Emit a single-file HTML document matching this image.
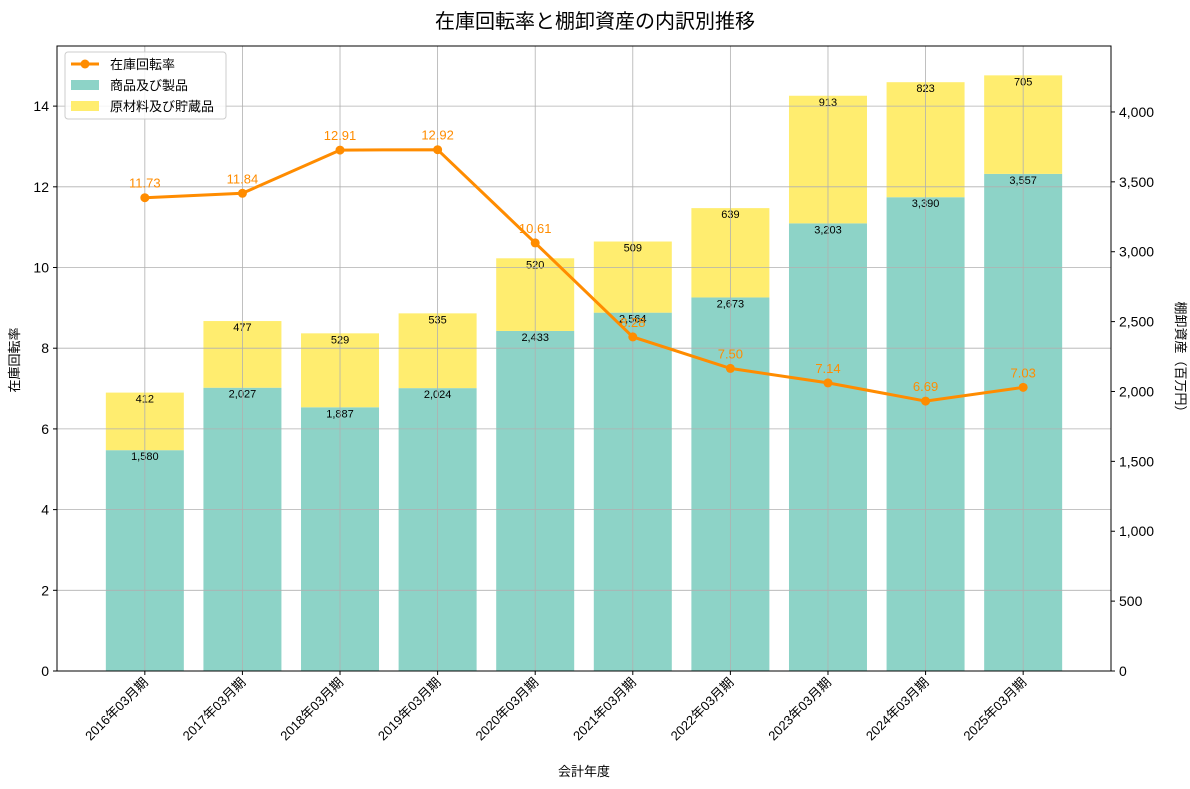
<!DOCTYPE html>
<html><head><meta charset="utf-8">
<style>
body{margin:0;background:#fff;}
svg{display:block;font-family:"Liberation Sans","Noto Sans CJK JP",sans-serif;}
</style></head>
<body>
<svg id="chart" width="1190" height="789">
<text x="595" y="28" text-anchor="middle" font-size="20" fill="#000">在庫回転率と棚卸資産の内訳別推移</text>
<g id="grid"></g><g id="bars"></g><g id="line"></g><g id="axes"></g>
<text x="584" y="776" text-anchor="middle" font-size="13">会計年度</text>
<text transform="translate(19,360) rotate(-90)" text-anchor="middle" font-size="13">在庫回転率</text>
<text transform="translate(1176,360) rotate(90)" text-anchor="middle" font-size="13">棚卸資産（百万円）</text>
<g>
<rect x="65" y="52" width="161" height="67" fill="#fff" fill-opacity="0.85" stroke="#ccc" rx="3"/>
<line x1="71" y1="64" x2="99" y2="64" stroke="#ff8c00" stroke-width="3"/><circle cx="85" cy="64" r="4.5" fill="#ff8c00"/>
<text x="110" y="69" font-size="13">在庫回転率</text>
<rect x="71" y="80" width="28" height="10" fill="#8dd3c7"/>
<text x="110" y="90" font-size="13">商品及び製品</text>
<rect x="71" y="101" width="28" height="10" fill="#ffed6f"/>
<text x="110" y="111" font-size="13">原材料及び貯蔵品</text>
</g>
</svg>
<script>
const categories=["2016年03月期","2017年03月期","2018年03月期","2019年03月期","2020年03月期","2021年03月期","2022年03月期","2023年03月期","2024年03月期","2025年03月期"];
const products=[1580,2027,1887,2024,2433,2564,2673,3203,3390,3557];
const materials=[412,477,529,535,520,509,639,913,823,705];
const turnover=[11.73,11.84,12.91,12.92,10.61,8.28,7.50,7.14,6.69,7.03];
const leftTicks=[0,2,4,6,8,10,12,14];
const rightTicks=[0,500,1000,1500,2000,2500,3000,3500,4000];
const L=57,R=1111,T=46,B=671;
const NS="http://www.w3.org/2000/svg";
const xs=i=>L+(i+0.9)*(R-L)/10.8;
const yl=v=>B-v*(B-T)/15.49;
const yr=v=>B-v*(B-T)/4472;
function mk(p,tag,a,txt){const e=document.createElementNS(NS,tag);for(const k in a)e.setAttribute(k,a[k]);if(txt!=null)e.textContent=txt;document.getElementById(p).appendChild(e);return e;}
const fmt=v=>v.toLocaleString('en-US');
categories.forEach((c,i)=>{
 const x=xs(i),w=78;
 const b1=mk('bars','rect',{x:x-w/2,y:yr(products[i]),width:w,height:B-yr(products[i]),fill:'#8dd3c7'});
 
 
 const b2=mk('bars','rect',{x:x-w/2,y:yr(products[i]+materials[i]),width:w,height:yr(products[i])-yr(products[i]+materials[i]),fill:'#ffed6f'});
 
 
 const t1=mk('bars','text',{x:x,y:yr(products[i])+10,'text-anchor':'middle','font-size':11},fmt(products[i]));
 
 
 const t2=mk('bars','text',{x:x,y:yr(products[i]+materials[i])+10,'text-anchor':'middle','font-size':11},fmt(materials[i]));
 
 
 mk('grid','line',{x1:x,x2:x,y1:T,y2:B,stroke:'#b0b0b0','stroke-width':0.8});
 mk('axes','line',{x1:x,x2:x,y1:B,y2:B+4,stroke:'#000'});
 const tl=mk('axes','text',{transform:`translate(${x+4},${B+12}) rotate(-45)`,'text-anchor':'end','font-size':13},c);
 
 
});
document.getElementById('grid').parentNode.insertBefore(document.getElementById('bars'),document.getElementById('grid'));
leftTicks.forEach(v=>{
 const y=yl(v);
 mk('grid','line',{x1:L,x2:R,y1:y,y2:y,stroke:'#b0b0b0','stroke-width':0.8});
 mk('axes','line',{x1:L-4,x2:L,y1:y,y2:y,stroke:'#000'});
 const t=mk('axes','text',{x:L-8,y:y+5,'text-anchor':'end','font-size':14},v);
 
 
});
rightTicks.forEach(v=>{
 const y=yr(v);
 mk('axes','line',{x1:R,x2:R+4,y1:y,y2:y,stroke:'#000'});
 const t=mk('axes','text',{x:R+8,y:y+5,'font-size':14},fmt(v));
 
 
});
mk('axes','rect',{x:L,y:T,width:R-L,height:B-T,fill:'none',stroke:'#000','stroke-width':1});
const pl=mk('line','polyline',{points:turnover.map((v,i)=>xs(i)+','+yl(v)).join(' '),fill:'none',stroke:'#ff8c00','stroke-width':3});


turnover.forEach((v,i)=>{
 const c=mk('line','circle',{cx:xs(i),cy:yl(v),r:4.5,fill:'#ff8c00'});
 
 
 const t=mk('line','text',{x:xs(i),y:yl(v)-10,'text-anchor':'middle','font-size':13,fill:'#ff8c00'},v.toFixed(2));
 
 
});
</script>
</body></html>
